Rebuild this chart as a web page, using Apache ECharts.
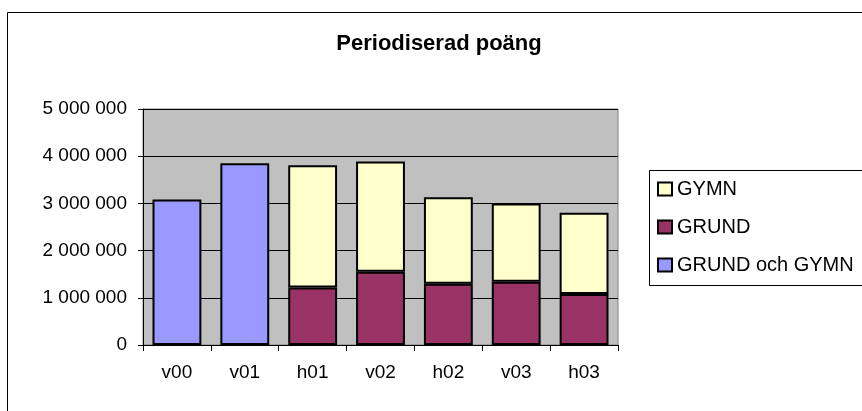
<!DOCTYPE html>
<html>
<head>
<meta charset="utf-8">
<script src="https://cdn.jsdelivr.net/npm/echarts@6/dist/echarts.min.js"></script>
<style>
html,body{margin:0;padding:0;background:#fff;}
#chart{width:862px;height:411px;}
</style>
</head>
<body>
<div id="chart"></div>
<script>
var categories = ['v00', 'v01', 'h01', 'v02', 'h02', 'v03', 'h03'];
var grundOchGymn = [3080000, 3850000, null, null, null, null, null];
var grund = [null, null, 1220000, 1550000, 1300000, 1340000, 1080000];
var gymn = [null, null, 2590000, 2340000, 1830000, 1660000, 1720000];
var yTicks = [0, 1000000, 2000000, 3000000, 4000000, 5000000];
var legendOrder = ['GYMN', 'GRUND', 'GRUND och GYMN'];

function fmt(v) {
  return String(v).replace(/\B(?=(\d{3})+(?!\d))/g, ' ');
}

var chart = echarts.init(document.getElementById('chart'), null, {renderer: 'canvas'});
var font = 'Liberation Sans, Arial, sans-serif';
var border = {borderColor: '#000', borderWidth: 2};

chart.setOption({
  animation: false,
  backgroundColor: '#fff',
  title: {
    text: 'Periodiserad poäng',
    left: 434, top: 28, textAlign: 'center',
    textStyle: {fontFamily: font, fontWeight: 'bold', fontSize: 22, color: '#000'}
  },
  graphic: [
    {type: 'rect', shape: {x: 7.5, y: 12.5, width: 900, height: 450}, style: {fill: 'none', stroke: '#000', lineWidth: 1}, silent: true, z: -10},
    {type: 'rect', shape: {x: 649.5, y: 170.5, width: 260, height: 115}, style: {fill: '#fff', stroke: '#000', lineWidth: 1}, silent: true, z: 0}
  ],
  legend: {
    data: legendOrder,
    orient: 'vertical',
    left: 657, top: 179,
    padding: 0,
    itemWidth: 14, itemHeight: 13,
    itemGap: 18,
    icon: 'rect',
    textStyle: {fontFamily: font, fontSize: 20, color: '#000'},
    z: 5
  },
  grid: {
    left: 143, top: 109, width: 475, height: 236,
    show: true, backgroundColor: '#C0C0C0', borderColor: '#808080', borderWidth: 1,
    containLabel: false
  },
  xAxis: {
    type: 'category',
    data: categories,
    axisLine: {lineStyle: {color: '#000', width: 1}},
    axisTick: {show: true, length: 6, lineStyle: {color: '#000'}},
    axisLabel: {fontFamily: font, fontSize: 19, color: '#000', margin: 18}
  },
  yAxis: {
    type: 'value',
    min: yTicks[0], max: yTicks[yTicks.length - 1], interval: 1000000,
    axisLine: {show: true, lineStyle: {color: '#000', width: 1}},
    axisTick: {show: true, length: 5, lineStyle: {color: '#000'}},
    splitLine: {show: true, lineStyle: {color: '#000', width: 1}},
    axisLabel: {fontFamily: font, fontSize: 19, color: '#000', margin: 16, formatter: fmt}
  },
  series: [
    {name: 'GRUND och GYMN', type: 'bar', stack: 'a', data: grundOchGymn, barWidth: '72%', itemStyle: Object.assign({color: '#9999FF'}, border)},
    {name: 'GRUND', type: 'bar', stack: 'a', data: grund, barWidth: '72%', itemStyle: Object.assign({color: '#993366'}, border)},
    {name: 'GYMN', type: 'bar', stack: 'a', data: gymn, barWidth: '72%', itemStyle: Object.assign({color: '#FFFFCC'}, border)}
  ]
});
</script>
</body>
</html>
